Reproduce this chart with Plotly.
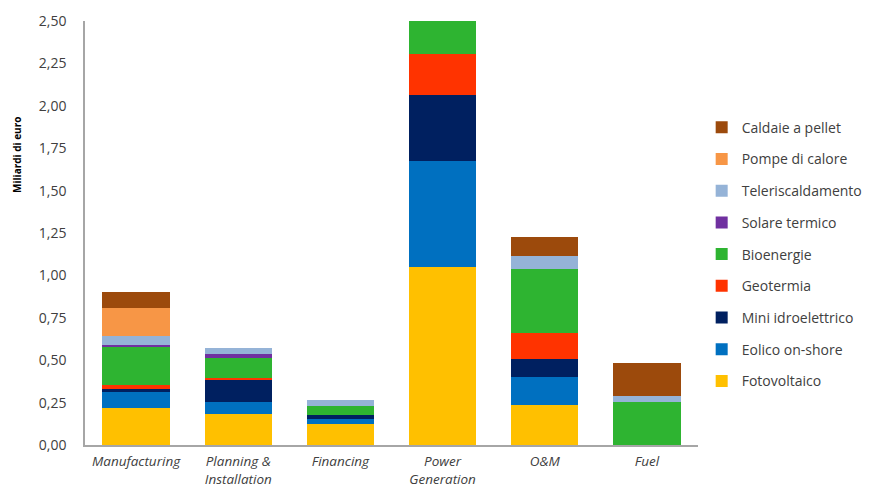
import plotly.graph_objects as go

# Categories along the x axis
categories = ["Manufacturing", "Planning &<br>Installation", "Financing",
              "Power<br>Generation", "O&M", "Fuel"]

# Values in billions of euro, per technology (stack order bottom -> top)
fotovoltaico      = [0.220, 0.185, 0.125, 1.050, 0.236, 0.000]
eolico_onshore    = [0.090, 0.070, 0.027, 0.625, 0.167, 0.000]
mini_idro         = [0.020, 0.130, 0.025, 0.388, 0.102, 0.000]
geotermia         = [0.025, 0.010, 0.000, 0.241, 0.157, 0.000]
bioenergie        = [0.220, 0.120, 0.055, 0.210, 0.374, 0.255]
solare_termico    = [0.015, 0.020, 0.000, 0.000, 0.000, 0.000]
teleriscaldamento = [0.055, 0.035, 0.033, 0.000, 0.078, 0.034]
pompe_calore      = [0.165, 0.000, 0.000, 0.000, 0.000, 0.000]
caldaie_pellet    = [0.090, 0.000, 0.000, 0.000, 0.114, 0.196]

series = [
    ("Fotovoltaico", fotovoltaico, "#FFC000"),
    ("Eolico on-shore", eolico_onshore, "#0070C0"),
    ("Mini idroelettrico", mini_idro, "#002060"),
    ("Geotermia", geotermia, "#FF3300"),
    ("Bioenergie", bioenergie, "#2EB431"),
    ("Solare termico", solare_termico, "#7030A0"),
    ("Teleriscaldamento", teleriscaldamento, "#95B3D7"),
    ("Pompe di calore", pompe_calore, "#F79646"),
    ("Caldaie a pellet", caldaie_pellet, "#9C4A0C"),
]

FONT = "'Open Sans', sans-serif"
TEXT = "#404040"

fig = go.Figure()
n = len(series)
for i, (name, vals, color) in enumerate(series):
    fig.add_trace(go.Bar(
        x=categories, y=vals, name=name, legendgroup=name,
        legendrank=n - i,  # top of the stack listed first
        marker=dict(color=color, line=dict(width=0)),
    ))

fig.update_layout(
    barmode="stack",
    bargap=0.34,
    width=871, height=491,
    margin=dict(l=85, r=173, t=21, b=46, autoexpand=False),
    paper_bgcolor="white", plot_bgcolor="white",
    separators=",.",
    font=dict(family=FONT, size=14, color=TEXT),
    showlegend=True,
    legend=dict(
        traceorder="grouped",
        tracegroupgap=10.5,
        x=1.006, xanchor="left", y=0.45, yanchor="middle",
        font=dict(family=FONT, size=14, color=TEXT),
        itemwidth=30,
    ),
    xaxis=dict(
        showline=True, linecolor="#A6A6A6", linewidth=1.5,
        ticks="", showgrid=False,
        ticklabelstandoff=3,
        tickfont=dict(family=FONT, size=13.5, color=TEXT, style="italic"),
    ),
    yaxis=dict(
        range=[0, 2.5], dtick=0.25, tickformat=".2f",
        showline=True, linecolor="#A6A6A6", linewidth=1.5,
        ticks="", showgrid=False, zeroline=False,
        ticklabelstandoff=14,
        tickfont=dict(family=FONT, size=14, color=TEXT),
    ),
    annotations=[dict(
        text="<b>Miliardi di euro</b>", textangle=-90,
        xref="paper", yref="paper", x=-0.111, y=0.684,
        xanchor="center", yanchor="middle", showarrow=False,
        font=dict(family=FONT, size=10, color="#000000"),
    )],
)

fig.write_html("out.html")
